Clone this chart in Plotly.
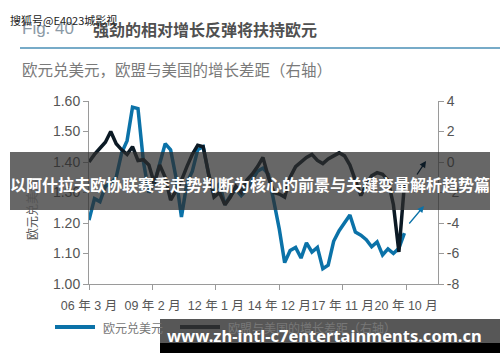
import plotly.graph_objects as go
import pandas as pd

# ---------------- data (quarterly) ----------------
dates = pd.date_range('2006-03-01', periods=59, freq='3MS')
eurusd = [1.21, 1.28, 1.27, 1.32, 1.33, 1.35, 1.43, 1.47, 1.58, 1.575,
          1.40, 1.30, 1.33, 1.40, 1.46, 1.44, 1.35, 1.22, 1.33, 1.37,
          1.44, 1.45, 1.36, 1.30, 1.33, 1.26, 1.29, 1.31, 1.29, 1.31,
          1.34, 1.37, 1.38, 1.36, 1.27, 1.18, 1.07, 1.11, 1.12, 1.085,
          1.135, 1.105, 1.12, 1.05, 1.062, 1.14, 1.175, 1.20, 1.226, 1.17,
          1.16, 1.145, 1.122, 1.138, 1.095, 1.115, 1.10, 1.117, 1.167]
gap = [0.0, 0.5, 0.9, 1.3, 2.0, 1.2, 0.8, 0.5, 1.0, 0.1,
       0.15, -0.2, -1.4, -0.2, -1.0, -2.5, -1.9, -1.2, -0.3, 0.5,
       1.1, 1.0, -0.8, -2.3, -2.0, -2.8, -2.3, -1.6, -2.0, -1.2,
       -0.8, -0.3, 0.3, -1.0, -2.0, -2.1, -2.3, -1.0, -0.3, 0.0,
       0.3, 0.5, 0.1, -0.1, 0.2, 0.4, 0.6, 0.4, -0.2, -1.2,
       -2.2, -1.5, -0.9, -0.7, -0.8, -1.2, -2.8, -5.9, -1.5]

x_tickvals = ['2006-03-01', '2009-02-01', '2012-01-01', '2014-12-01', '2017-11-01', '2020-10-01']
x_ticktext = ['06 年 3 月', '09 年 2 月', '12 年 1 月', '14 年 12 月', '17 年 11 月', '20 年 10 月']
y_left_ticks = [1.0, 1.1, 1.2, 1.3, 1.4, 1.5, 1.6]
y_right_ticks = [-8, -6, -4, -2, 0, 2, 4]
y_right_text = ['-8', '-6', '-4', '-2', '0', '2', '4']

name_fx = '欧元兑美元'
name_gap = '欧盟与美国的增长差距（右轴）'

# ---------------- layout helpers (pixel -> paper) ----------------
W, H = 500, 362
L, R, T, B = 89, 438, 101, 284


def px(x):
    return (x - L) / (R - L)


def py(y):
    return (B - y) / (B - T)


BLUE = '#0b72a8'
DARK = '#0c1a25'
AXC = '#9a9a9a'
TXT = '#555555'
FONT = 'Liberation Sans, Noto Sans CJK SC, sans-serif'
CJK = 'Noto Sans CJK SC, sans-serif'

fig = go.Figure()
fig.add_trace(go.Scatter(x=dates, y=eurusd, mode='lines', name=name_fx,
                         line=dict(color=BLUE, width=3.5), yaxis='y'))
fig.add_trace(go.Scatter(x=dates, y=gap, mode='lines', name=name_gap,
                         line=dict(color=DARK, width=3.5), yaxis='y2'))

shapes = [
    # title underline
    dict(type='line', xref='paper', yref='paper', x0=px(20), x1=px(500), y0=py(48), y1=py(48),
         line=dict(color='#4a8fb6', width=1.5), layer='above'),
    # middle banner
    dict(type='rect', xref='paper', yref='paper', x0=px(10), x1=px(490), y0=py(210), y1=py(152),
         fillcolor='rgba(45,45,45,0.72)', line=dict(width=0), layer='above'),
    # legend samples
    dict(type='line', xref='paper', yref='paper', x0=px(55), x1=px(95), y0=py(327), y1=py(327),
         line=dict(color=BLUE, width=4), layer='above'),
    dict(type='line', xref='paper', yref='paper', x0=px(180), x1=px(220), y0=py(327), y1=py(327),
         line=dict(color=DARK, width=4), layer='above'),
    # bottom banner
    dict(type='rect', xref='paper', yref='paper', x0=px(160), x1=px(500), y0=py(343), y1=py(319),
         fillcolor='rgba(50,50,50,0.82)', line=dict(width=0), layer='above'),
    dict(type='rect', xref='paper', yref='paper', x0=px(160), x1=px(500), y0=py(353), y1=py(343),
         fillcolor='#000000', line=dict(width=0), layer='above'),
]

annotations = [
    # title
    dict(text='Fig. 40', x=px(20), y=py(28), xref='paper', yref='paper', xanchor='left', yanchor='middle',
         showarrow=False, font=dict(family=FONT, size=17, color='#8c9aa6')),
    dict(text='<b>强劲的相对增长反弹将扶持欧元</b>', x=px(91), y=py(29), xref='paper', yref='paper',
         xanchor='left', yanchor='middle', showarrow=False, font=dict(family=CJK, size=16, color='#505050')),
    # subtitle
    dict(text='欧元兑美元，欧盟与美国的增长差距（右轴）', x=px(20), y=py(69), xref='paper', yref='paper',
         xanchor='left', yanchor='middle', showarrow=False, font=dict(family=CJK, size=15.5, color='#7a7a7a')),
    # y axis title
    dict(text='欧元兑美元', x=px(31), y=py(210), xref='paper', yref='paper', textangle=-90,
         xanchor='center', yanchor='middle', showarrow=False, font=dict(family=CJK, size=12, color='#555555')),
    # arrows
    dict(text='', x=px(426), y=py(161), xref='paper', yref='paper', ax=-10, ay=15,
         showarrow=True, arrowhead=2, arrowsize=1, arrowwidth=1.3, arrowcolor=DARK),
    dict(text='', x=px(424), y=py(206), xref='paper', yref='paper', ax=-16, ay=19,
         showarrow=True, arrowhead=2, arrowsize=1, arrowwidth=1.3, arrowcolor=BLUE),
    # legend texts
    dict(text=name_fx, x=px(101), y=py(327), xref='paper', yref='paper', xanchor='left', yanchor='middle',
         showarrow=False, font=dict(family=CJK, size=12, color='#777777')),
    dict(text=name_gap, x=px(226), y=py(327), xref='paper', yref='paper', xanchor='left', yanchor='middle',
         showarrow=False, font=dict(family=CJK, size=12, color='#777777')),
    # overlays
    dict(text='<b>以阿什拉夫欧协联赛季走势判断为核心的前景与关键变量解析趋势篇</b>', x=px(250), y=py(184),
         xref='paper', yref='paper', xanchor='center', yanchor='middle', showarrow=False,
         font=dict(family=CJK, size=16, color='#ffffff')),
    dict(text='<b>www.zh-intl-c7entertainments.com.cn</b>', x=px(324), y=py(335),
         xref='paper', yref='paper', xanchor='center', yanchor='middle', showarrow=False,
         font=dict(family='Noto Sans, sans-serif', size=16.5, color='#ffffff')),
    dict(text='搜狐号@E4023城影视', x=px(8), y=py(20), xref='paper', yref='paper', xanchor='left',
         yanchor='middle', showarrow=False, font=dict(family=CJK, size=11, color='#222222')),
]

fig.update_layout(
    width=W, height=H,
    margin=dict(l=L, r=W - R, t=T, b=H - B, pad=0),
    paper_bgcolor='white', plot_bgcolor='white',
    showlegend=False,
    font=dict(family=FONT, color=TXT),
    xaxis=dict(type='date', range=['2006-03-01', '2022-03-20'], tickvals=x_tickvals, ticktext=x_ticktext,
               tickangle=0, ticklabelstandoff=5,
               showline=True, linecolor=AXC, linewidth=1, ticks='outside', ticklen=5, tickcolor=AXC,
               showgrid=False, zeroline=False, tickfont=dict(family=FONT, size=12.5, color=TXT)),
    yaxis=dict(range=[1.0, 1.6], tickvals=y_left_ticks, tickformat='.2f',
               showline=True, linecolor=AXC, linewidth=1, ticks='outside', ticklen=5, tickcolor=AXC,
               showgrid=False, zeroline=False, tickfont=dict(family=FONT, size=14, color=TXT)),
    yaxis2=dict(range=[-8, 4], overlaying='y', side='right', tickvals=y_right_ticks, ticktext=y_right_text,
                showline=True, linecolor=AXC, linewidth=1, ticks='outside', ticklen=5, tickcolor=AXC,
                showgrid=False, zeroline=False, tickfont=dict(family=FONT, size=14, color=TXT)),
    shapes=shapes,
    annotations=annotations,
)

fig.write_html('out.html')
